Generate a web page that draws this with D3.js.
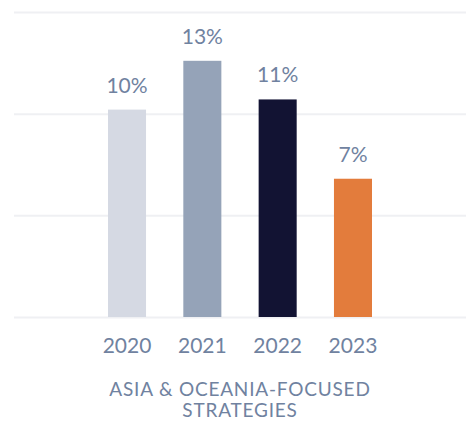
<!DOCTYPE html>
<html>
<head>
<meta charset="utf-8">
<script src="https://cdn.jsdelivr.net/npm/d3@7"></script>
<style>
  html, body { margin: 0; padding: 0; background: #fff; }
  svg { display: block; }
  text { font-family: Lato, "Open Sans", sans-serif; fill: #7082a0; font-weight: 400; }
</style>
</head>
<body>
<svg id="chart" width="466" height="421"></svg>
<script>
const categories = ["2020", "2021", "2022", "2023"];
const values = [10.2, 12.6, 10.7, 6.8];
const valueLabels = ["10%", "13%", "11%", "7%"];
const colors = ["#d5d9e3", "#95a3b8", "#121333", "#e37c3c"];
const yTicks = [0, 5, 10, 15];
const titleLines = ["ASIA & OCEANIA-FOCUSED", "STRATEGIES"];

const svg = d3.select("#chart");

const x = d3.scaleBand()
  .domain(categories)
  .range([108, 372])
  .paddingInner(0.495)
  .paddingOuter(0);

const y = d3.scaleLinear()
  .domain([0, 15])
  .range([317, 12]);

// gridlines
svg.append("g")
  .selectAll("line")
  .data(yTicks)
  .join("line")
  .attr("x1", 14)
  .attr("x2", 466)
  .attr("y1", d => y(d) + 0.5)
  .attr("y2", d => y(d) + 0.5)
  .attr("stroke", "#eff0f3")
  .attr("stroke-width", 2);

// bars
svg.append("g")
  .selectAll("rect")
  .data(values)
  .join("rect")
  .attr("x", (d, i) => x(categories[i]))
  .attr("width", x.bandwidth())
  .attr("y", d => y(d))
  .attr("height", d => y(0) - y(d))
  .attr("fill", (d, i) => colors[i]);

// value labels
svg.append("g")
  .selectAll("text")
  .data(values)
  .join("text")
  .attr("x", (d, i) => x(categories[i]) + x.bandwidth() / 2)
  .attr("y", d => y(d) - 17)
  .attr("text-anchor", "middle")
  .attr("font-size", 21)
  .text((d, i) => valueLabels[i]);

// x axis labels
const xAxis = d3.axisBottom(x).tickSize(0).tickPadding(0);
const gx = svg.append("g")
  .attr("transform", `translate(0, ${y(0)})`)
  .call(xAxis);
gx.select(".domain").remove();
gx.selectAll("text")
  .attr("font-size", 21)
  .attr("dy", null)
  .attr("y", 36)
  .style("font-family", "Lato, 'Open Sans', sans-serif")
  .style("font-weight", 400)
  .attr("fill", "#7082a0");

// title
svg.append("g")
  .selectAll("text")
  .data(titleLines)
  .join("text")
  .attr("x", 240)
  .attr("y", (d, i) => 396 + i * 21)
  .attr("text-anchor", "middle")
  .attr("font-size", 19)
  .attr("letter-spacing", 0.8)
  .text(d => d);
</script>
</body>
</html>
